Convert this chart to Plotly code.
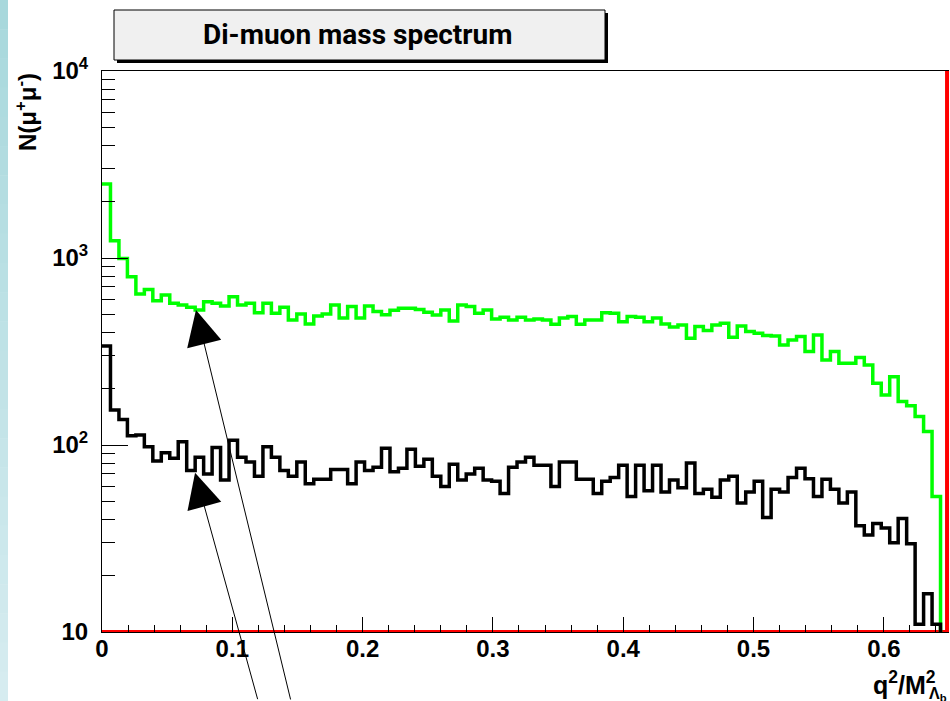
import plotly.graph_objects as go

# ---------------- data ----------------
BIN_WIDTH = 0.0065          # 100 bins over 0 .. 0.65 in q^2/M^2
N_BINS = 100

green_counts = [
    2490, 1238, 995, 794, 641, 679, 591, 634, 573, 561,
    545, 527, 583, 573, 553, 621, 561, 573, 510, 573,
    506, 545, 466, 502, 444, 490, 502, 561, 477, 550,
    477, 553, 517, 497, 525, 538, 538, 531, 512, 495,
    527, 460, 561, 550, 506, 527, 472, 482, 466, 482,
    466, 472, 466, 442, 477, 486, 442, 466, 466, 510,
    506, 456, 486, 482, 456, 477, 443, 427, 438, 372,
    430, 409, 438, 448, 377, 433, 404, 396, 385, 383,
    343, 364, 380, 316, 387, 285, 316, 274, 274, 294,
    268, 214, 185, 232, 171, 162, 142, 118, 53, 0,
]

black_counts = [
    338, 154, 137, 112, 113, 98, 82, 91, 85, 104,
    73, 86, 70, 97, 65, 106, 86, 81, 68, 98,
    86, 73, 68, 81, 62, 65.5, 65.5, 74, 74, 62,
    81, 73, 76, 96, 72, 75, 95, 77, 84, 68,
    60, 79, 65, 70, 75, 65, 64, 55, 76, 81,
    86, 78, 78, 60, 81, 81, 65.5, 65.5, 55, 64,
    67, 78, 53, 78, 57, 78, 56, 65, 59, 80,
    55, 58, 52.5, 65, 68, 49, 56, 64, 41, 58,
    56, 67, 75, 66, 53, 65.5, 58, 49, 56, 37,
    33, 38, 36, 30, 40.5, 29.6, 11, 16, 11, 0,
]

x_tick_vals = [0, 0.1, 0.2, 0.3, 0.4, 0.5, 0.6]
x_tick_text = ["0", "0.1", "0.2", "0.3", "0.4", "0.5", "0.6"]
y_tick_vals = [10, 100, 1000, 10000]
y_tick_text = ["10", "10<sup>2</sup>", "10<sup>3</sup>", "10<sup>4</sup>"]
y_minor_vals = [m * d for d in (10, 100, 1000) for m in range(2, 10)]

X_RANGE = [0, 0.65]
Y_RANGE_LOG = [1, 4]
RED_EDGE_X = 0.6485

title_text = "Di-muon mass spectrum"
y_title = "N(μ<sup>+</sup>μ<sup>-</sup>)"
x_title_main = "q<sup>2</sup>/M<sup>2</sup>"
x_title_sub = "Λ<sub>b</sub>"

# ---------------- geometry ----------------
W, H = 950, 701
L, R, T, B = 102, 1, 71, 69
PW = W - L - R
PH = H - T - B


def px_x(px):
    return (px - L) / PW


def px_y(py):
    return (H - B - py) / PH


edges = [i * BIN_WIDTH for i in range(N_BINS + 1)]
FLOOR = 1.0  # empty bins drawn at the bottom of the frame


def step_y(vals):
    v = [c if c > 0 else FLOOR for c in vals]
    return v + [v[-1]]


fig = go.Figure()

fig.add_trace(go.Scatter(
    x=[0, RED_EDGE_X, RED_EDGE_X], y=[10, 10, 10000], mode="lines",
    line=dict(color="#ff0000", width=4), hoverinfo="skip"))

fig.add_trace(go.Scatter(
    x=edges, y=step_y(green_counts), mode="lines", line_shape="hv",
    line=dict(color="#00ff00", width=3.5), name="all"))

fig.add_trace(go.Scatter(
    x=edges, y=step_y(black_counts), mode="lines", line_shape="hv",
    line=dict(color="#000000", width=3.5), name="selected"))

font_bold = dict(family="Liberation Sans, Arial, sans-serif", size=24,
                 color="black", weight="bold")

fig.update_layout(
    width=W, height=H,
    margin=dict(l=L, r=R, t=T, b=B),
    paper_bgcolor="white", plot_bgcolor="white",
    showlegend=False,
    xaxis=dict(
        range=X_RANGE, showgrid=False, zeroline=False,
        showline=True, linecolor="black", linewidth=1, mirror=True,
        ticks="inside", ticklen=15, tickwidth=1, tickcolor="black",
        tickvals=x_tick_vals, ticktext=x_tick_text, tickfont=font_bold,
        ticklabelstandoff=-5,
        minor=dict(ticks="inside", ticklen=7, tickwidth=1, tickcolor="black",
                   dtick=0.02, showgrid=False),
    ),
    yaxis=dict(
        type="log", range=Y_RANGE_LOG, showgrid=False, zeroline=False,
        showline=True, linecolor="black", linewidth=1, mirror=False,
        ticks="inside", ticklen=26, tickwidth=1, tickcolor="black",
        tickvals=y_tick_vals, ticktext=y_tick_text, tickfont=font_bold,
        ticklabelstandoff=8,
        minor=dict(ticks="inside", ticklen=13, tickwidth=1, tickcolor="black",
                   tickvals=y_minor_vals, showgrid=False),
    ),
)

shapes = []
# left gradient strip
n_strip = 24
c0, c1 = (168, 216, 220), (214, 236, 240)
for i in range(n_strip):
    f = i / (n_strip - 1)
    col = tuple(int(round(c0[k] + (c1[k] - c0[k]) * f)) for k in range(3))
    y0 = i * H / n_strip
    y1 = (i + 1) * H / n_strip + 0.5
    shapes.append(dict(type="rect", xref="paper", yref="paper",
                       x0=px_x(0), x1=px_x(8), y0=px_y(y1), y1=px_y(y0),
                       fillcolor="rgb(%d,%d,%d)" % col, line=dict(width=0),
                       layer="below"))
# title box with shadow
shapes.append(dict(type="rect", xref="paper", yref="paper",
                   x0=px_x(117), x1=px_x(608), y0=px_y(63), y1=px_y(13),
                   fillcolor="black", line=dict(width=0)))
shapes.append(dict(type="rect", xref="paper", yref="paper",
                   x0=px_x(114), x1=px_x(605), y0=px_y(60), y1=px_y(10),
                   fillcolor="#f0f0f0", line=dict(color="black", width=1)))
fig.update_layout(shapes=shapes)

ann = []
ann.append(dict(text="<b>%s</b>" % title_text, xref="paper", yref="paper",
                x=px_x(358), y=px_y(35), xanchor="center", yanchor="middle",
                showarrow=False,
                font=dict(family="Roboto, Liberation Sans, Arial", size=28, color="black")))
ann.append(dict(text="<b>%s</b>" % y_title, xref="paper", yref="paper",
                x=px_x(26), y=px_y(71), xanchor="center", yanchor="top",
                textangle=-90, showarrow=False,
                font=dict(family="Liberation Sans, Arial", size=24, color="black")))
ann.append(dict(text="<b>%s</b>" % x_title_main, xref="paper", yref="paper",
                x=px_x(871), y=px_y(683), xanchor="left", yanchor="middle",
                showarrow=False,
                font=dict(family="Liberation Sans, Arial", size=25, color="black")))
ann.append(dict(text="<b>%s</b>" % x_title_sub, xref="paper", yref="paper",
                x=px_x(927), y=px_y(694), xanchor="left", yanchor="middle",
                showarrow=False,
                font=dict(family="Liberation Sans, Arial", size=16, color="black")))

# arrows pointing at the two histograms
ann.append(dict(text="", x=0.0721, y=2.722, xref="x", yref="y",
                showarrow=True, ax=95, ay=391, arrowhead=2, arrowsize=7,
                arrowwidth=1, arrowcolor="black", standoff=0))
ann.append(dict(text="", x=0.0714, y=1.852, xref="x", yref="y",
                showarrow=True, ax=63, ay=228, arrowhead=2, arrowsize=7,
                arrowwidth=1, arrowcolor="black", standoff=0))
fig.update_layout(annotations=ann)

fig.write_html("out.html")
